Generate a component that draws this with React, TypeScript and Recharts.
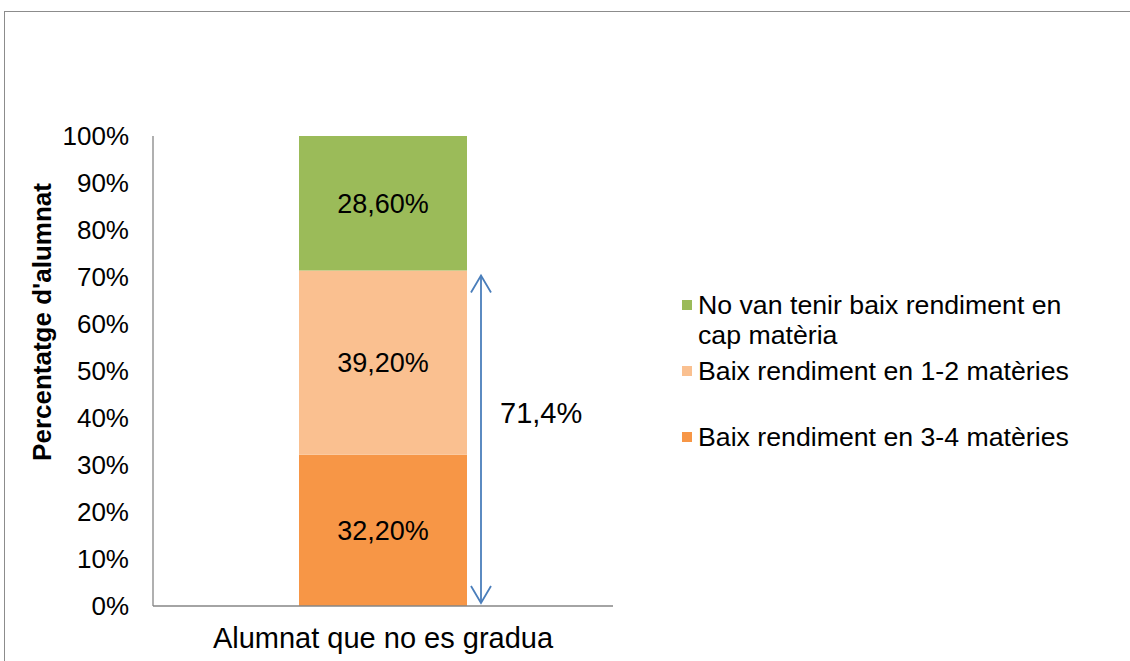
import React from 'react';
import { BarChart, Bar, XAxis, YAxis, Legend, LabelList, ReferenceLine } from 'recharts';

// values
const categories = ['Alumnat que no es gradua'];
const baix34 = [32.2];
const baix12 = [39.2];
const capMateria = [28.6];
const yTicks = [0, 10, 20, 30, 40, 50, 60, 70, 80, 90, 100];
const arrowSpan = 71.4;
const arrowLabel = '71,4%';
const legendOrder = ['capMateria', 'baix12', 'baix34'];

const FONT = '"Liberation Sans", Arial, sans-serif';
const AXIS = '#868686';
const ARROW = '#4A7EBB';
const BAR_SIZE = 168;
const ARROW_GAP = 14; // distance from the bar's right edge

const data = categories.map((name, i) => ({
  name,
  baix34: baix34[i],
  baix12: baix12[i],
  capMateria: capMateria[i],
}));

const pct = (v: number) => v.toFixed(2).replace('.', ',') + '%';

const ArrowShape = (props: any) => {
  const { x1, y1, y2 } = props;
  const x = x1 + BAR_SIZE / 2 + ARROW_GAP;
  const top = Math.min(y1, y2) + 5;
  const bot = Math.max(y1, y2) - 3;
  const ty = top + (bot - top) * 0.42;
  return (
    <g>
      <line x1={x} y1={top} x2={x} y2={bot} stroke={ARROW} strokeWidth={1.8} />
      <polyline points={`${x - 10},${top + 17} ${x},${top} ${x + 10},${top + 17}`} fill="none" stroke={ARROW} strokeWidth={1.8} />
      <polyline points={`${x - 10},${bot - 17} ${x},${bot} ${x + 10},${bot - 17}`} fill="none" stroke={ARROW} strokeWidth={1.8} />
      <text x={x + 19} y={ty} dominantBaseline="central" fontSize={29} fontFamily={FONT} fill="#000">
        {arrowLabel}
      </text>
    </g>
  );
};

const renderLegend = (props: any) => {
  const items = [...(props.payload || [])].sort(
    (a: any, b: any) => legendOrder.indexOf(a.dataKey) - legendOrder.indexOf(b.dataKey)
  );
  return (
    <div style={{ fontFamily: FONT, fontSize: 26.7, color: '#000' }}>
      {items.map((it: any) => (
        <div key={it.value} style={{ height: 66, display: 'flex', alignItems: 'flex-start' }}>
          <div style={{ width: 10, height: 10, background: it.color, marginTop: 10, marginRight: 6, flexShrink: 0 }} />
          <div style={{ width: 385, lineHeight: '30px' }}>{it.value}</div>
        </div>
      ))}
    </div>
  );
};

const YLabel = (props: any) => {
  const vb = props.viewBox || { x: 0, y: 136, height: 470 };
  const x = vb.x + 51;
  const y = vb.y + vb.height / 2 - 49;
  return (
    <text x={x} y={y} transform={`rotate(-90 ${x} ${y})`} textAnchor="middle" fontSize={26} fontWeight="bold" fontFamily={FONT} fill="#000">
      Percentatge d'alumnat
    </text>
  );
};

export default function App() {
  return (
    <div style={{ position: 'fixed', left: 0, top: 0, width: 1130, height: 661, overflow: 'hidden', background: '#fff' }}>
      <div style={{ position: 'absolute', left: 4, top: 11, width: 1140, height: 670, border: '1px solid #8c8c8c' }} />
      <div style={{ position: 'absolute', left: 0, top: 0 }}>
        <BarChart width={1130} height={661} data={data} margin={{ top: 136, right: 517, bottom: 25, left: 0 }}>
          <XAxis
            dataKey="name"
            height={30}
            tickLine={false}
            axisLine={{ stroke: AXIS, strokeWidth: 1.3 }}
            tickSize={6}
            tickMargin={15}
            tick={{ fill: '#000', fontSize: 29, fontFamily: FONT }}
          />
          <YAxis
            type="number"
            domain={[0, 100]}
            ticks={yTicks}
            width={153}
            tickLine={false}
            tickSize={6}
            tickMargin={18}
            axisLine={{ stroke: AXIS, strokeWidth: 1.3 }}
            tickFormatter={(v: number) => `${v}%`}
            tick={{ fill: '#000', fontSize: 26, fontFamily: FONT }}
            label={{ content: <YLabel /> }}
          />
          <Legend
            layout="horizontal"
            align="center"
            verticalAlign="middle"
            content={renderLegend}
            wrapperStyle={{ left: 682, top: 290, width: 420, height: 200 }}
          />
          <Bar dataKey="baix34" name="Baix rendiment en 3-4 matèries" stackId="a" fill="#F79646" barSize={BAR_SIZE} isAnimationActive={false}>
            <LabelList dataKey="baix34" position="center" formatter={pct} fill="#000" fontSize={27} fontFamily={FONT} />
          </Bar>
          <Bar dataKey="baix12" name="Baix rendiment en 1-2 matèries" stackId="a" fill="#FAC090" barSize={BAR_SIZE} isAnimationActive={false}>
            <LabelList dataKey="baix12" position="center" formatter={pct} fill="#000" fontSize={27} fontFamily={FONT} />
          </Bar>
          <Bar dataKey="capMateria" name="No van tenir baix rendiment en cap matèria" stackId="a" fill="#9BBB59" barSize={BAR_SIZE} isAnimationActive={false}>
            <LabelList dataKey="capMateria" position="center" formatter={pct} fill="#000" fontSize={27} fontFamily={FONT} />
          </Bar>
          <ReferenceLine
            segment={[{ x: categories[0], y: 0 }, { x: categories[0], y: arrowSpan }]}
            shape={ArrowShape}
            ifOverflow="visible"
          />
        </BarChart>
      </div>
    </div>
  );
}
